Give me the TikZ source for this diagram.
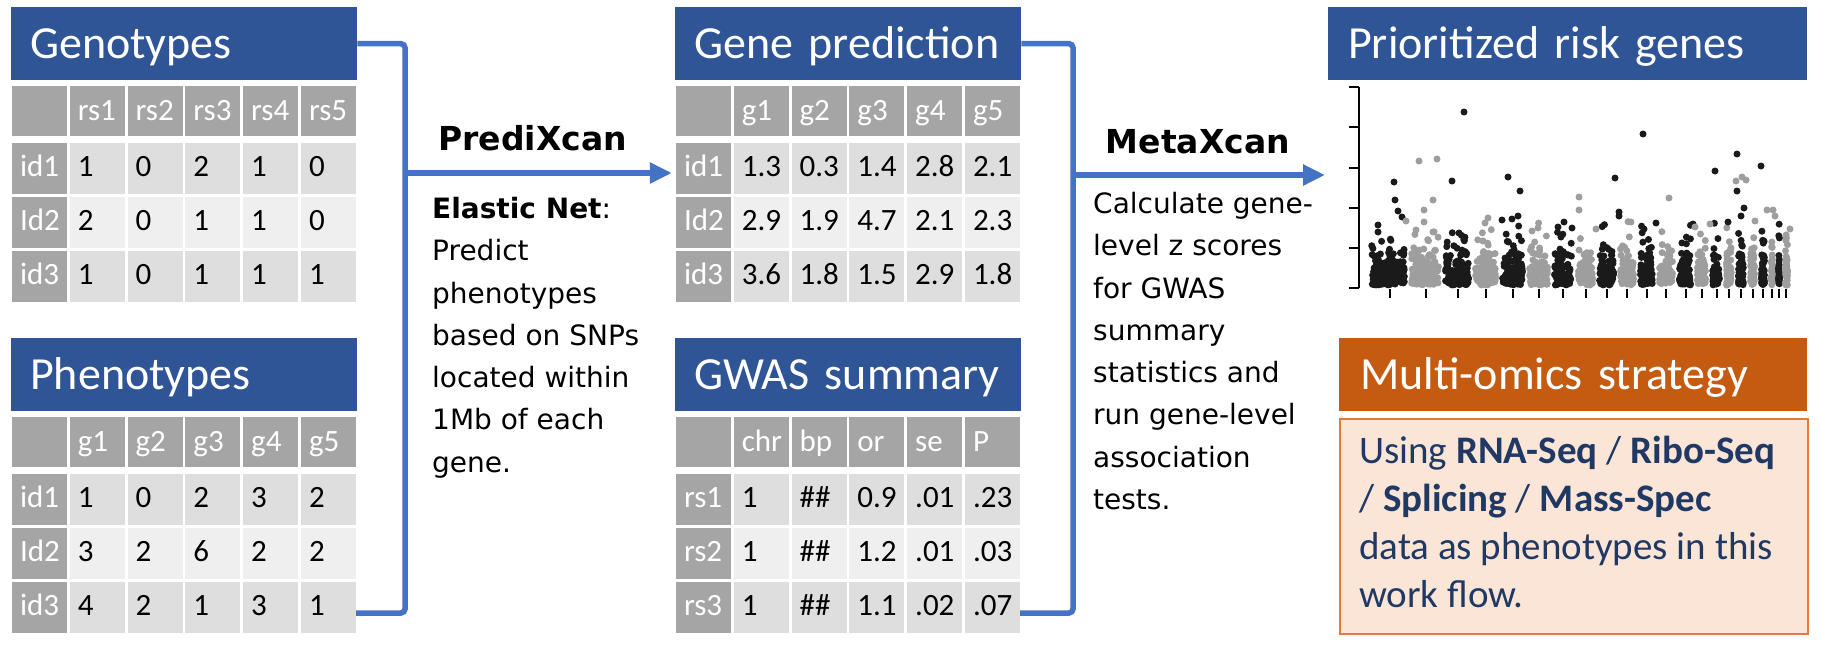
\documentclass[tikz,border=0pt]{standalone}
\usepackage{fontspec}
\setmainfont{Carlito}
\newfontfamily\verdfont{DejaVu Sans}
\usetikzlibrary{arrows.meta}
\usetikzlibrary{calc}

\definecolor{titleblue}{HTML}{2F5597}
\definecolor{flowblue}{HTML}{4472C4}
\definecolor{cellgray}{HTML}{A5A5A5}
\definecolor{row1}{HTML}{DEDEDE}
\definecolor{row2}{HTML}{EFEFEF}
\definecolor{row3}{HTML}{DEDEDE}
\definecolor{omicsorange}{HTML}{C55A11}
\definecolor{omicspeach}{HTML}{FBE5D6}
\definecolor{omicsedge}{HTML}{E07B3C}
\definecolor{omicstext}{HTML}{203864}
\definecolor{dotblack}{HTML}{1A1A1A}
\definecolor{dotgray}{HTML}{9E9E9E}

\tikzset{
  titlebox/.style={rectangle, fill=titleblue, text=white, anchor=north west, minimum width=346pt, minimum height=73pt, inner xsep=19pt, inner ysep=0pt, text width=308pt, align=left, text height=32pt, text depth=2.3pt, font=\fontsize{46}{55}\selectfont},
  cell/.style={rectangle, minimum width=55pt, minimum height=51pt, inner xsep=8pt, inner ysep=0pt, text width=39pt, align=left, text height=19pt, text depth=3pt, font=\fontsize{31}{36}\selectfont},
  headcell/.style={cell, fill=cellgray, text=white, minimum height=50pt, text depth=0.5pt},
  labcell/.style={cell, fill=cellgray, text=white},
  datacell/.style={cell, text=black},
  flow/.style={draw=flowblue, line width=5.5pt, rounded corners=4pt},
  flowarrow/.style={draw=flowblue, line width=5.5pt, -{Triangle[length=22pt, width=20pt]}},
  steptext/.style={font=\verdfont\fontsize{28}{42.3}\selectfont, align=left, inner sep=0pt, anchor=north west},
  toolname/.style={font=\verdfont\bfseries\fontsize{33}{40}\selectfont, inner sep=0pt, anchor=base},
  tick/.style={line width=1.3pt},
}

\newcommand{\datagrid}[6]{%
  \node[titlebox] (#1) at (#2,#3) {#4};
  \foreach \hd [count=\j from 0] in {#5}
    \node[headcell] (#1-0-\j) at ({#2+28.5+\j*57.8},{#3+104}) {\hd};
  \foreach \lab/\qa/\qb/\qc/\qd/\qe [count=\i] in {#6} {
    \node[labcell] (#1-\i-0) at ({#2+28.5},{#3+107.5+\i*54}) {\lab};
    \foreach \val [count=\j] in {\qa,\qb,\qc,\qd,\qe}
      \node[datacell, fill=row\i] (#1-\i-\j) at ({#2+28.5+\j*57.8},{#3+107.5+\i*54}) {\val};
  }
}

\begin{document}
\begin{tikzpicture}[x=1pt, y=-1pt]
  \useasboundingbox (0,0) rectangle (1821,646);
  \fill[white] (0,0) rectangle (1821,646);

  \datagrid{geno}{11}{7}{Genotypes}{{},rs1,rs2,rs3,rs4,rs5}{id1/1/0/2/1/0, Id2/2/0/1/1/0, id3/1/0/1/1/1}
  \datagrid{pheno}{11}{338}{Phenotypes}{{},g1,g2,g3,g4,g5}{id1/1/0/2/3/2, Id2/3/2/6/2/2, id3/4/2/1/3/1}
  \datagrid{gpred}{675}{7}{Gene prediction}{{},g1,g2,g3,g4,g5}{id1/1.3/0.3/1.4/2.8/2.1, Id2/2.9/1.9/4.7/2.1/2.3, id3/3.6/1.8/1.5/2.9/1.8}
  \datagrid{gwas}{675}{338}{GWAS summary}{{},chr,bp,or,se,P}{rs1/1/\#\#/0.9/.01/.23, rs2/1/\#\#/1.2/.01/.03, rs3/1/\#\#/1.1/.02/.07}

  \node[titlebox, minimum width=479pt, text width=439pt, inner xsep=20pt] (prio) at (1328,7) {Prioritized risk genes};
  \node[titlebox, fill=omicsorange, minimum width=468pt, text width=426pt, inner xsep=21pt] (omics) at (1339,338) {Multi-omics strategy};
  \node[draw=omicsedge, line width=1.5pt, fill=omicspeach, anchor=north west, minimum width=468pt, minimum height=215pt] (omicsnote) at (1339,418) {};
  \node[text=omicstext, align=left, inner sep=0pt, anchor=north west, font=\fontsize{39}{48}\selectfont] (omicstext) at ([xshift=20pt, yshift=-18pt]omicsnote.north west) {Using \textbf{RNA-Seq} / \textbf{Ribo-Seq}\\/ \textbf{Splicing} / \textbf{Mass-Spec}\\data as phenotypes in this\\work flow.};

  \coordinate (jA) at (405,173);
  \coordinate (jB) at (1073,175);
  \draw[flow] (geno.east) -- (geno.east -| jA) |- ([yshift=-5.5pt]pheno-3-5.east);
  \draw[flowarrow, shorten >=4pt] (jA) -- (jA -| gpred-1-0.west);
  \draw[flow] (gpred.east) -- (gpred.east -| jB) |- ([yshift=-5.5pt]gwas-3-5.east);
  \draw[flowarrow, shorten >=3pt] (jB) -- (jB -| prio.west);

  \node[toolname] (predix) at (532.5,150) {PrediXcan};
  \node[steptext] (elastic) at (432,197) {\textbf{Elastic Net}:\\Predict\\phenotypes\\based on SNPs\\located within\\1Mb of each\\gene.};
  \node[toolname] (metax) at (1198,153) {MetaXcan};
  \node[steptext] (zscore) at (1093,192) {Calculate gene-\\level z scores\\for GWAS\\summary\\statistics and\\run gene-level\\association\\tests.};

  \draw[tick] (1359,87) -- (1359,288);
  \foreach \ty in {87,127,168,208,248,288}
    \draw[tick] (1349,\ty) -- (1359,\ty);
  \foreach \tx in {1390,1426,1458,1486,1513,1539,1563,1586,1607,1627,1647,1666,1686,1702,1717,1729,1741,1753,1763,1772,1779,1786}
    \draw[tick] (\tx,289) -- (\tx,298);

  \pgfmathsetseed{42}
  \foreach \xa/\xb/\dc in {1368/1408/dotblack, 1408/1442/dotgray, 1442/1472/dotblack, 1472/1499/dotgray, 1499/1526/dotblack, 1526/1551/dotgray, 1551/1575/dotblack, 1575/1596/dotgray, 1596/1617/dotblack, 1617/1637/dotgray, 1637/1656/dotblack, 1656/1676/dotgray, 1676/1694/dotblack, 1694/1709/dotgray, 1709/1723/dotblack, 1723/1735/dotgray, 1735/1747/dotblack, 1747/1758/dotgray, 1758/1768/dotblack, 1768/1776/dotgray, 1776/1782/dotblack, 1782/1791/dotgray} {
    \pgfmathtruncatemacro{\nlow}{(\xb-\xa)*3.5+8}
    \pgfmathtruncatemacro{\nhigh}{(\xb-\xa)/3+2}
    \foreach \n in {1,...,\nlow} {
      \pgfmathsetmacro{\px}{\xa+3.5+(\xb-\xa-7)*rnd}
      \pgfmathsetmacro{\py}{285-34*rnd*(0.3+0.7*rnd)}
      \fill[\dc] (\px,\py) circle[radius=3.5pt];
    }
    \foreach \n in {1,...,\nhigh} {
      \pgfmathsetmacro{\px}{\xa+3.5+(\xb-\xa-7)*rnd}
      \pgfmathsetmacro{\py}{256-38*rnd*rnd}
      \fill[\dc] (\px,\py) circle[radius=3.5pt];
    }
  }
  \foreach \px/\py in {1464/112, 1643/134, 1737/154, 1761/166, 1394/182, 1452/181, 1508/177, 1615/178, 1715/171, 1395/200, 1398/211, 1402/217, 1520/191, 1518/216, 1512/219, 1619/212, 1619/216, 1737/191, 1744/208, 1741/216, 1378/225, 1644/229, 1656/223, 1693/224, 1728/222, 1459/233, 1558/227, 1564/222, 1572/228, 1502/220, 1378/232}
    \fill[dotblack] (\px,\py) circle[radius=3.5pt];
  \foreach \px/\py in {1419/161, 1437/159, 1424/210, 1433/200, 1579/197, 1579/210, 1742/177, 1746/180, 1736/181, 1669/198, 1406/221, 1424/222, 1485/223, 1488/218, 1631/222, 1767/210, 1773/210, 1775/216, 1596/229, 1755/221, 1695/227, 1710/224, 1790/229, 1433/232, 1416/230, 1532/231, 1538/228}
    \fill[dotgray] (\px,\py) circle[radius=3.5pt];
\end{tikzpicture}
\end{document}
